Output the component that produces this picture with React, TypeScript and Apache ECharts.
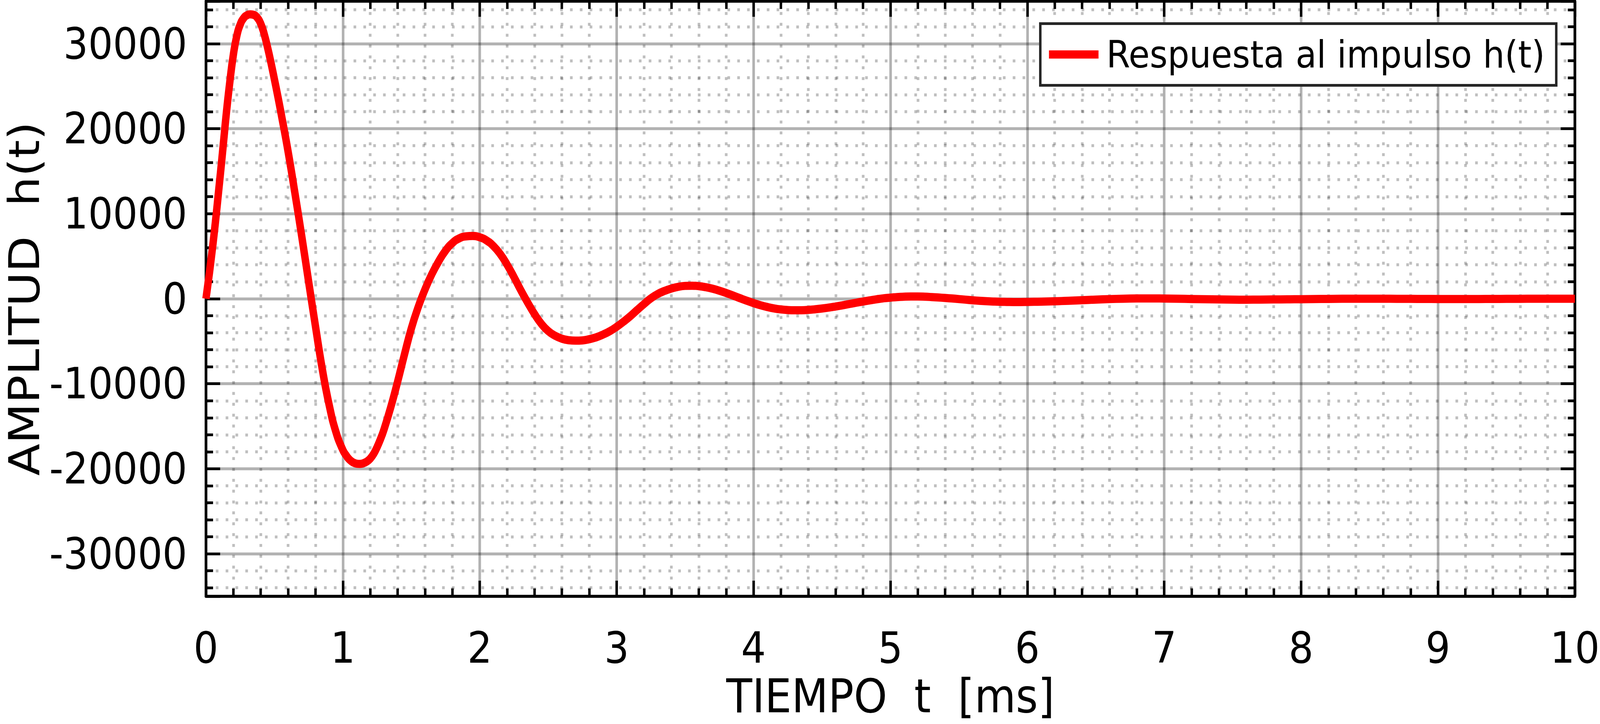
import React, { useEffect, useRef } from "react";
import * as echarts from "echarts";

// ---- data ----
const T_MS = [
  0, 0.05, 0.1, 0.125, 0.15, 0.175, 0.2, 0.225, 0.25, 0.275, 0.3, 0.325, 0.35, 0.375, 0.4, 0.425,
  0.45, 0.475, 0.5, 0.525, 0.55, 0.6, 0.65, 0.7, 0.75,
  0.8, 0.85, 0.9, 0.95, 1.0, 1.025, 1.05, 1.075, 1.1, 1.125, 1.15, 1.175, 1.2, 1.225, 1.25, 1.275,
  1.3, 1.35, 1.4, 1.45, 1.5, 1.55,
  1.6, 1.65, 1.7, 1.75, 1.8, 1.85, 1.9, 1.95, 2.0, 2.05, 2.1, 2.15, 2.2, 2.25, 2.3, 2.35,
  2.4, 2.45, 2.5, 2.55, 2.6, 2.65, 2.7, 2.75, 2.8, 2.85, 2.9, 2.95, 3.0, 3.05, 3.1, 3.15,
  3.2, 3.25, 3.3, 3.35, 3.4, 3.45, 3.5, 3.55, 3.6, 3.65, 3.7, 3.75, 3.8, 3.85, 3.9, 3.95,
  4.0, 4.05, 4.1, 4.15, 4.2, 4.25, 4.3, 4.35, 4.4, 4.45, 4.5, 4.55, 4.6, 4.65, 4.7, 4.75,
  4.8, 4.85, 4.9, 4.95, 5.0, 5.05, 5.1, 5.15, 5.2, 5.25, 5.3, 5.35, 5.4, 5.45, 5.5, 5.55,
  5.6, 5.65, 5.7, 5.75, 5.8, 5.85, 5.9, 5.95, 6.0, 6.05, 6.1, 6.15, 6.2, 6.25, 6.3,
  6.4, 6.5, 6.6, 6.7, 6.8, 6.9, 7.0, 7.1, 7.2, 7.3, 7.4, 7.5, 7.6, 7.7, 7.8, 7.9,
  8.0, 8.1, 8.2, 8.3, 8.4, 8.5, 8.6, 8.7, 8.8, 8.9, 9.0, 9.1, 9.2, 9.3, 9.4, 9.5,
  9.6, 9.7, 9.8, 9.9, 10.0,
];
const H_T = [
  0, 6300, 13850, 17900, 22000, 25600, 28700, 30900, 32250, 33000, 33350, 33450, 33380, 33050, 32350, 31150,
  29550, 27750, 25800, 23800, 21700, 17300, 12400, 7300, 2000,
  -3250, -8300, -12500, -15700, -17800, -18450, -18950, -19250, -19400, -19430, -19350, -19150, -18800, -18250, -17450, -16500,
  -15400, -12750, -9750, -6550, -3500, -1000,
  1100, 2900, 4400, 5650, 6550, 7100, 7340, 7380, 7230, 6850, 6200, 5250, 4000, 2550, 1000, -450,
  -1800, -2950, -3800, -4350, -4700, -4880, -4930, -4900, -4760, -4540, -4220, -3820, -3300, -2700, -2050, -1320,
  -620, 50, 560, 920, 1200, 1400, 1510, 1530, 1480, 1360, 1180, 950, 680, 380, 70, -230,
  -510, -760, -970, -1140, -1260, -1330, -1360, -1350, -1310, -1240, -1150, -1040, -910, -770, -620, -470,
  -330, -190, -60, 50, 130, 200, 240, 260, 260, 240, 200, 150, 90, 30, -40, -110,
  -180, -240, -290, -330, -360, -375, -385, -385, -375, -360, -340, -320, -300, -270, -240,
  -170, -100, -40, 0, 30, 40, 25, 0, -30, -60, -85, -105, -110, -100, -85, -70,
  -55, -35, -20, -5, 5, 5, 0, -8, -15, -22, -30, -35, -35, -30, -22, -15,
  -8, 0, 3, 3, 0,
];
const X_MIN = 0;
const X_MAX = 10;
const X_STEP = 1;
const Y_MIN = -35000;
const Y_MAX = 35000;
const Y_LABEL_STEP = 10000;
const MINOR_SPLITS = 5;

const SERIES_NAME = "Respuesta al impulso h(t)";
const X_NAME = "TIEMPO  t  [ms]";
const Y_NAME = "AMPLITUD  h(t)";

const FONT = "DejaVu Sans";
const DESIGN_W = 4521;
const DESIGN_H = 1854;

function frameAxis(extra: any) {
  return {
    type: "value",
    axisLine: { show: true, onZero: false, lineStyle: { color: "#000", width: 7.5 } },
    axisTick: { show: true, inside: true, length: 40, lineStyle: { color: "#000", width: 7 } },
    minorTick: {
      show: true,
      splitNumber: MINOR_SPLITS,
      length: 20,
      lineStyle: { color: "#000", width: 7 },
    },
    ...extra,
  };
}

const majorGrid = { show: true, lineStyle: { color: "rgba(0,0,0,0.3)", width: 7.3, type: "solid" } };
const minorGrid = {
  show: true,
  lineStyle: { color: "rgba(0,0,0,0.25)", width: 7.5, type: [7.5, 20.3] },
};

export default function App() {
  const ref = useRef<HTMLDivElement>(null);

  useEffect(() => {
    document.documentElement.style.overflow = "hidden";
    document.body.style.margin = "0";
    document.body.style.overflow = "hidden";
    const el = ref.current as HTMLDivElement;

    // fit the fixed-size design into the actual viewport if it differs
    const vw = document.documentElement.clientWidth || window.innerWidth || DESIGN_W;
    const vh = window.innerHeight || document.documentElement.clientHeight || DESIGN_H;
    const sx = vw / DESIGN_W;
    const sy = vh / DESIGN_H;
    if (Math.abs(sx - 1) > 0.002 || Math.abs(sy - 1) > 0.002) {
      el.style.transformOrigin = "0 0";
      el.style.transform = `scale(${sx}, ${sy})`;
    }

    const chart = echarts.init(el, null, { renderer: "svg", width: DESIGN_W, height: DESIGN_H });

    const yScale = {
      min: Y_MIN,
      max: Y_MAX,
      splitNumber: 7,
      minInterval: Y_LABEL_STEP,
      maxInterval: Y_LABEL_STEP,
    };
    const xScale = { min: X_MIN, max: X_MAX, interval: X_STEP };

    const option: any = {
      animation: false,
      backgroundColor: "#fff",
      grid: {
        left: 582,
        right: 71,
        top: 3,
        bottom: 327,
        containLabel: false,
        outerBoundsMode: "none",
      },
      legend: {
        show: true,
        left: 2939.5,
        top: 60.5,
        orient: "horizontal",
        backgroundColor: "#fff",
        borderColor: "#262626",
        borderWidth: 7,
        borderRadius: 0,
        padding: [24, 32, 24, 24.5],
        itemWidth: 140,
        itemHeight: 21,
        icon: "rect",
        itemStyle: { color: "#ff0000", borderWidth: 0 },
        textStyle: {
          fontSize: 97,
          fontFamily: FONT,
          color: "#000",
          lineHeight: 110,
          padding: [0, 0, 0, 17],
        },
        data: [{ name: SERIES_NAME, icon: "rect" }],
      },
      xAxis: [
        frameAxis({
          ...xScale,
          position: "bottom",
          axisLabel: {
            show: true,
            margin: 77,
            fontSize: 110,
            fontFamily: FONT,
            color: "#000",
            formatter: (v: number) => String(v),
          },
          splitLine: majorGrid,
          minorSplitLine: minorGrid,
          name: X_NAME,
          nameLocation: "middle",
          nameGap: 196,
          nameTextStyle: { fontSize: 120, fontFamily: FONT, color: "#000" },
        }),
        frameAxis({
          ...xScale,
          position: "top",
          axisLabel: { show: false },
          splitLine: { show: false },
          minorSplitLine: { show: false },
        }),
      ],
      yAxis: [
        frameAxis({
          ...yScale,
          position: "left",
          axisLabel: {
            show: true,
            margin: 53,
            fontSize: 110,
            fontFamily: FONT,
            color: "#000",
            formatter: (v: number) => (v % Y_LABEL_STEP === 0 ? String(v) : ""),
          },
          splitLine: majorGrid,
          minorSplitLine: minorGrid,
          name: Y_NAME,
          nameLocation: "middle",
          nameGap: 452,
          nameTextStyle: { fontSize: 120, fontFamily: FONT, color: "#000" },
        }),
        frameAxis({
          ...yScale,
          position: "right",
          axisLabel: { show: false },
          splitLine: { show: false },
          minorSplitLine: { show: false },
        }),
      ],
      series: [
        {
          type: "line",
          name: SERIES_NAME,
          xAxisIndex: 0,
          yAxisIndex: 0,
          data: T_MS.map((t, i) => [t, H_T[i]]),
          showSymbol: false,
          symbol: "none",
          smooth: 0.5,
          clip: false,
          color: "#ff0000",
          lineStyle: { color: "#ff0000", width: 21, cap: "butt", join: "round" },
          itemStyle: { color: "#ff0000" },
          z: 3,
        },
      ],
    };

    chart.setOption(option);
    return () => chart.dispose();
  }, []);

  return <div ref={ref} style={{ width: DESIGN_W, height: DESIGN_H }} />;
}
